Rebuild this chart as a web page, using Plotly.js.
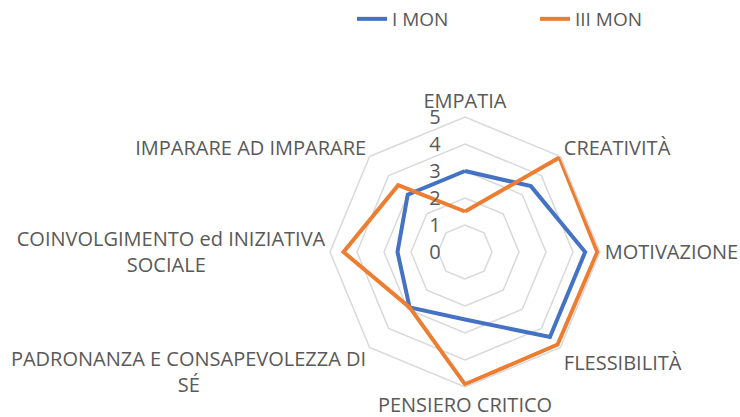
<!DOCTYPE html>
<html>
<head>
<meta charset="utf-8">
<script src="https://cdn.plot.ly/plotly-3.0.1.min.js"></script>
<style>html,body{margin:0;padding:0;background:#fff;}#chart{width:740px;height:417px;}</style>
</head>
<body>
<div id="chart"></div>
<script>
const NB = "\u00A0";
const categories = [
  "EMPATIA",
  "CREATIVITÀ",
  "MOTIVAZIONE",
  "FLESSIBILITÀ",
  "PENSIERO CRITICO",
  "PADRONANZA E CONSAPEVOLEZZA DI<br>SÉ" + NB.repeat(32),
  "COINVOLGIMENTO ed INIZIATIVA<br>SOCIALE" + NB.repeat(23),
  "IMPARARE AD IMPARARE"
];
const seriesNames = ["I MON", "III MON"];
const iMon = [3.0, 3.45, 4.45, 4.45, 2.5, 2.9, 2.5, 3.0];
const iiiMon = [1.5, 4.95, 4.9, 4.85, 4.9, 2.9, 4.5, 3.5];
const radialTicks = [0, 1, 2, 3, 4, 5];

const close = a => a.concat([a[0]]);
const theta = close(categories);

const traces = [
  {type: "scatterpolar", mode: "lines", name: seriesNames[0], r: close(iMon), theta: theta,
   line: {color: "#4472C4", width: 4, shape: "linear"}, hoverinfo: "skip"},
  {type: "scatterpolar", mode: "lines", name: seriesNames[1], r: close(iiiMon), theta: theta,
   line: {color: "#ED7D31", width: 4, shape: "linear"}, hoverinfo: "skip"}
];

const font = {family: "Open Sans, Noto Sans, sans-serif", size: 20, color: "#595959"};

const layout = {
  width: 740, height: 417,
  margin: {l: 0, r: 0, t: 0, b: 0},
  paper_bgcolor: "#ffffff",
  font: font,
  showlegend: true,
  legend: {orientation: "h", x: 352/740, xanchor: "left", y: 1.0, yanchor: "top",
           entrywidth: 138, entrywidthmode: "pixels",
           font: {family: font.family, size: 19, color: "#595959"}, tracegroupgap: 0},
  polar: {
    domain: {x: [330/740, 600/740], y: [30/417, 300/417]},
    bgcolor: "#ffffff",
    gridshape: "linear",
    angularaxis: {
      direction: "clockwise", rotation: 90,
      showgrid: false, showline: true, linecolor: "#d9d9d9", linewidth: 1.5,
      ticks: "", tickfont: font
    },
    radialaxis: {
      range: [0, 5], tickvals: radialTicks, ticktext: radialTicks.map(v => String(v) + NB.repeat(4)),
      angle: 90, tickangle: 90, side: "counterclockwise", showline: false, ticks: "",
      gridcolor: "#d9d9d9", gridwidth: 1.5,
      tickfont: font
    }
  }
};

Plotly.newPlot("chart", traces, layout, {staticPlot: true});
</script>
</body>
</html>
